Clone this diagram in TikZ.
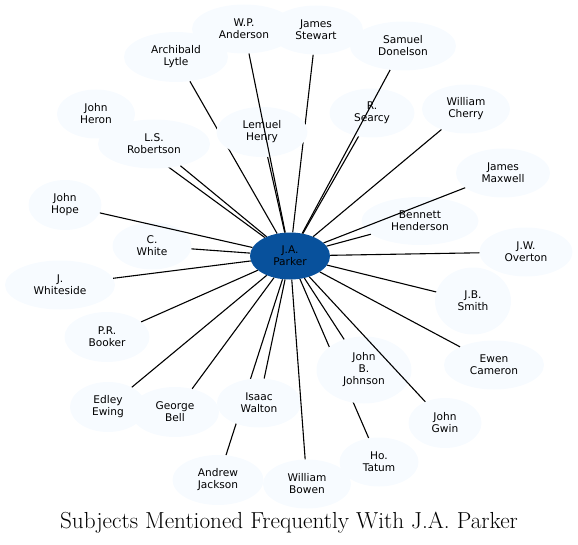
\documentclass[tikz,border=0pt]{standalone}
\usepackage{fontspec}
\newfontfamily\lab{DejaVu Sans}
\usetikzlibrary{shapes.geometric}
\definecolor{subfill}{HTML}{F7FBFF}
\definecolor{hubfill}{HTML}{08519C}
\pgfdeclarelayer{bg}
\pgfsetlayers{bg,main}
\tikzset{
  sub/.style={ellipse, fill=subfill, inner sep=0pt, align=center,
    font=\lab\fontsize{10.6bp}{12bp}\selectfont},
  hub/.style={sub, fill=hubfill},
  link/.style={line width=1.1bp, black},
}
\begin{document}
\begin{tikzpicture}[x=1bp,y=-1bp]
\useasboundingbox (0,0) rectangle (578,545);
% nodes
\node[sub, minimum width=104bp, minimum height=49bp] (anderson) at (244,29) {W.P.\\Anderson};
\node[sub, minimum width=94bp, minimum height=49bp] (stewart) at (316,30) {James\\Stewart};
\node[sub, minimum width=106bp, minimum height=49bp] (donelson) at (403,46) {Samuel\\Donelson};
\node[sub, minimum width=104bp, minimum height=50bp] (lytle) at (176,57) {Archibald\\Lytle};
\node[sub, minimum width=78bp, minimum height=49bp] (heron) at (96,114) {John\\Heron};
\node[sub, minimum width=112bp, minimum height=49bp] (robertson) at (154,144) {L.S.\\Robertson};
\node[sub, minimum width=91bp, minimum height=50bp] (henry) at (262,132) {Lemuel\\Henry};
\node[sub, minimum width=85bp, minimum height=49bp] (searcy) at (372,113) {R.\\Searcy};
\node[sub, minimum width=88bp, minimum height=49bp] (cherry) at (466,109) {William\\Cherry};
\node[sub, minimum width=94bp, minimum height=49bp] (maxwell) at (503,173) {James\\Maxwell};
\node[sub, minimum width=73bp, minimum height=50bp] (hope) at (65,205) {John\\Hope};
\node[sub, minimum width=117bp, minimum height=48bp] (henderson) at (420,221) {Bennett\\Henderson};
\node[sub, minimum width=79bp, minimum height=47bp] (white) at (152,246) {C.\\White};
\node[sub, minimum width=93bp, minimum height=49bp] (overton) at (526,252) {J.W.\\Overton};
\node[sub, minimum width=110bp, minimum height=49bp] (whiteside) at (60,285) {J.\\Whiteside};
\node[sub, minimum width=76bp, minimum height=67bp] (smith) at (473,301) {J.B.\\Smith};
\node[sub, minimum width=85bp, minimum height=50bp] (booker) at (107,337) {P.R.\\Booker};
\node[sub, minimum width=100bp, minimum height=49bp] (cameron) at (494,365) {Ewen\\Cameron};
\node[sub, minimum width=95bp, minimum height=67bp] (johnson) at (364,370) {John\\B.\\Johnson};
\node[sub, minimum width=76bp, minimum height=50bp] (ewing) at (108,407) {Edley\\Ewing};
\node[sub, minimum width=88bp, minimum height=50bp] (bell) at (175,412) {George\\Bell};
\node[sub, minimum width=84bp, minimum height=49bp] (walton) at (259,403) {Isaac\\Walton};
\node[sub, minimum width=73bp, minimum height=50bp] (gwin) at (445,423) {John\\Gwin};
\node[sub, minimum width=79bp, minimum height=49bp] (tatum) at (379,462) {Ho.\\Tatum};
\node[sub, minimum width=91bp, minimum height=50bp] (jackson) at (218,480) {Andrew\\Jackson};
\node[sub, minimum width=88bp, minimum height=49bp] (bowen) at (307,484) {William\\Bowen};
\node[hub, minimum width=80bp, minimum height=47bp] (parker) at (290,256) {J.A.\\Parker};
% edges hidden beneath other nodes
\begin{pgfonlayer}{bg}
\foreach \n in {lytle,stewart,heron,jackson,tatum}
  \draw[link] (parker) -- (\n);
\end{pgfonlayer}
% visible edges
\foreach \n in {anderson,donelson,robertson,henry,searcy,cherry,maxwell,hope,
  henderson,white,overton,whiteside,smith,booker,cameron,johnson,ewing,bell,
  walton,gwin,bowen}
  \draw[link] (parker) -- (\n);
% title
\node[font=\fontsize{23.2bp}{25bp}\selectfont] (title) at (289,523) {Subjects Mentioned Frequently With J.A. Parker};
\end{tikzpicture}
\end{document}
